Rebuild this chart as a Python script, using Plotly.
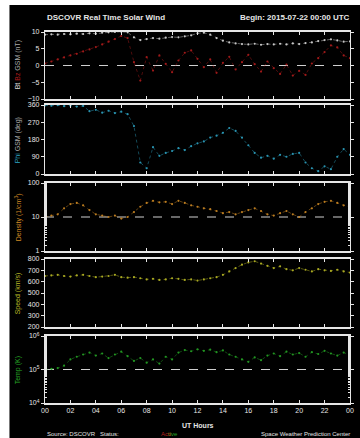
import plotly.graph_objects as go

# ---------------- data ----------------
hours = [0, 0.5, 1, 1.5, 2, 2.5, 3, 3.5, 4, 4.5, 5, 5.5, 6, 6.5, 7, 7.5, 8, 8.5,
         9, 9.5, 10, 10.5, 11, 11.5, 12, 12.5, 13, 13.5, 14, 14.5, 15, 15.5, 16,
         16.5, 17, 17.5, 18, 18.5, 19, 19.5, 20, 20.5, 21, 21.5, 22, 22.5, 23,
         23.5, 24]

bt = [9.2, 9.3, 9.2, 9.4, 9.3, 9.5, 9.4, 9.6, 9.5, 9.8, 9.9, 10.0, 10.1, 9.9,
      8.4, 7.6, 7.9, 8.2, 8.0, 8.3, 8.5, 8.4, 8.7, 9.0, 9.6, 9.8, 9.2, 8.2, 7.4,
      6.9, 6.6, 6.4, 6.3, 6.5, 6.2, 6.4, 6.3, 6.5, 6.3, 6.6, 6.4, 6.7, 6.9, 7.3,
      7.6, 7.8, 7.5, 7.1, 7.2]

bz = [0.6, 1.2, 1.8, 2.4, 3.0, 3.5, 4.2, 4.8, 5.5, 6.3, 7.1, 7.9, 8.8, 8.2,
      1.0, -4.5, 2.5, -1.5, 3.0, 0.5, -2.0, 1.5, 3.8, 4.5, 2.0, -0.5, 1.8, -2.2,
      0.8, 2.6, -1.2, 1.0, 3.2, 0.4, -1.8, 1.2, -0.8, -2.5, 0.3, -3.0, -1.6,
      -2.8, 0.6, 2.2, 4.0, 6.0, 5.4, 3.0, 2.2]

phi = [358, 356, 359, 354, 357, 352, 355, 328, 335, 320, 330, 318, 325, 312,
       250, 60, 30, 140, 95, 110, 120, 135, 125, 145, 160, 170, 190, 200, 215,
       240, 225, 190, 150, 110, 85, 95, 80, 100, 90, 105, 110, 60, 30, 15, 40,
       25, 90, 130, 100]

density = [10, 11, 12, 18, 24, 26, 22, 16, 12, 11, 10, 11, 9, 10, 14, 20, 26,
           30, 27, 28, 24, 30, 26, 22, 20, 18, 17, 15, 13, 14, 12, 14, 16, 18,
           15, 12, 11, 13, 15, 12, 10, 14, 18, 24, 28, 30, 26, 22, 20]

speed = [650, 655, 660, 650, 645, 655, 660, 650, 640, 645, 650, 660, 640, 635,
         640, 630, 620, 625, 615, 620, 630, 625, 615, 620, 610, 620, 630, 640,
         660, 690, 720, 750, 770, 780, 760, 740, 720, 735, 710, 700, 720, 705,
         690, 710, 700, 695, 705, 690, 680]

temp = [1.0e5, 1.05e5, 1.1e5, 1.3e5, 2.0e5, 2.4e5, 2.8e5, 3.2e5, 2.6e5, 3.0e5,
        2.2e5, 2.8e5, 3.4e5, 2.5e5, 1.8e5, 2.2e5, 1.6e5, 2.0e5, 1.5e5, 2.4e5,
        2.0e5, 3.2e5, 3.8e5, 3.5e5, 4.0e5, 3.6e5, 3.9e5, 3.3e5, 3.7e5, 2.8e5,
        2.4e5, 2.0e5, 1.7e5, 2.3e5, 1.9e5, 2.6e5, 3.0e5, 2.5e5, 3.4e5, 2.8e5,
        3.1e5, 2.4e5, 3.3e5, 2.9e5, 3.6e5, 3.0e5, 2.6e5, 3.2e5, 2.7e5]

x_tick_vals = [0, 2, 4, 6, 8, 10, 12, 14, 16, 18, 20, 22, 24]
x_tick_text = ["00", "02", "04", "06", "08", "10", "12", "14", "16", "18",
               "20", "22", "00"]

bz_ticks = [-10, -5, 0, 5, 10]
phi_ticks = [0, 90, 180, 270, 360]
density_ticks = [1, 10, 100]
density_tick_text = ["1", "10", "100"]
speed_ticks = [200, 300, 400, 500, 600, 700, 800]
temp_ticks = [1e4, 1e5, 1e6]
temp_tick_text = ["10<sup>4</sup>", "10<sup>5</sup>", "10<sup>6</sup>"]

ref_bz = 0
ref_density = 10
ref_temp = 1e5

# ---------------- layout helpers ----------------
W, H = 360, 438
L, R, T, B = 45, 6, 32, 35
PW, PH = W - L - R, H - T - B


def py(pix):
    return (H - B - pix) / PH


def px(pix):
    return (pix - L) / PW


panels = [(32, 99), (105, 174), (183, 251), (259, 327), (336, 403)]

FONT = "Liberation Sans"
WHITE = "#e6e6e6"
C_BT = "#dcdcdc"
C_BZ = "#b01c1c"
C_PHI = "#2ea4c4"
C_DEN = "#d08a24"
C_SPD = "#bcbc26"
C_TMP = "#26a626"

fig = go.Figure()


def add(i, y, color, width=0.5, size=2.2):
    fig.add_trace(go.Scatter(
        x=hours, y=y, mode="lines+markers",
        xaxis="x" if i == 1 else f"x{i}", yaxis="y" if i == 1 else f"y{i}",
        line=dict(color=color, width=width, dash="dot"),
        marker=dict(color=color, size=size),
        opacity=0.9,
        showlegend=False, hoverinfo="skip"))


def ref(i, val):
    fig.add_trace(go.Scatter(
        x=[hours[0], hours[-1]], y=[val, val], mode="lines",
        xaxis="x" if i == 1 else f"x{i}", yaxis="y" if i == 1 else f"y{i}",
        line=dict(color="#cfcfcf", width=1.2, dash="dash"),
        showlegend=False, hoverinfo="skip"))


ref(1, ref_bz)
ref(3, ref_density)
ref(5, ref_temp)
add(1, bz, C_BZ)
add(1, bt, C_BT)
add(2, phi, C_PHI)
add(3, density, C_DEN)
add(4, speed, C_SPD)
add(5, temp, C_TMP)

layout = dict(
    width=W, height=H,
    margin=dict(l=L, r=R, t=T, b=B, pad=0),
    paper_bgcolor="black", plot_bgcolor="black",
    font=dict(family=FONT, size=7, color=WHITE),
)

yspecs = [
    dict(range=[-10, 10], tickvals=bz_ticks),
    dict(range=[0, 360], tickvals=phi_ticks),
    dict(type="log", range=[0, 2], tickvals=density_ticks,
         ticktext=density_tick_text,
         minor=dict(ticks="inside", ticklen=2, tickcolor=WHITE)),
    dict(range=[200, 800], tickvals=speed_ticks),
    dict(type="log", range=[4, 6], tickvals=temp_ticks,
         ticktext=temp_tick_text,
         minor=dict(ticks="inside", ticklen=2, tickcolor=WHITE)),
]

for i, (top, bot) in enumerate(panels, start=1):
    xs = "xaxis" if i == 1 else f"xaxis{i}"
    ys = "yaxis" if i == 1 else f"yaxis{i}"
    layout[xs] = dict(
        domain=[0, 1], range=[0, 24], anchor="y" if i == 1 else f"y{i}",
        tickvals=x_tick_vals, ticktext=x_tick_text,
        showticklabels=(i == 5), ticks="inside", ticklen=3, tickcolor=WHITE,
        showline=True, linecolor=WHITE, linewidth=1.5, mirror="ticks",
        showgrid=False, zeroline=False, tickfont=dict(size=7, color=WHITE))
    spec = dict(
        domain=[py(bot), py(top)], anchor="x" if i == 1 else f"x{i}",
        ticks="outside", ticklen=3, tickcolor=WHITE,
        showline=True, linecolor=WHITE, linewidth=1.2, mirror="ticks",
        showgrid=False, zeroline=False, tickfont=dict(size=7, color=WHITE))
    spec.update(yspecs[i - 1])
    layout[ys] = spec

fig.update_layout(**layout)

# white border strips (left and top)
fig.add_shape(type="rect", xref="paper", yref="paper", layer="above",
              x0=px(-5), x1=px(9), y0=py(445), y1=py(-5),
              fillcolor="white", line=dict(width=0))
fig.add_shape(type="rect", xref="paper", yref="paper", layer="above",
              x0=px(-5), x1=px(365), y0=py(5), y1=py(-5),
              fillcolor="white", line=dict(width=0))

ann = []
ann.append(dict(text="<b>DSCOVR Real Time Solar Wind</b>", x=px(45), y=py(17),
                xanchor="left", yanchor="middle", font=dict(size=8, color=WHITE)))
ann.append(dict(text="<b>Begin: 2015-07-22 00:00 UTC</b>", x=px(356), y=py(17),
                xanchor="right", yanchor="middle", font=dict(size=8, color=WHITE)))

side = [
    (f"<span style='color:{C_BT}'>Bt</span> <span style='color:{C_BZ}'>Bz</span> GSM (nT)", 65),
    (f"<span style='color:{C_PHI}'>Phi</span> GSM (deg)", 140),
    (f"<span style='color:{C_DEN}'>Density (1/cm<sup>3</sup>)</span>", 217),
    (f"<span style='color:{C_SPD}'>Speed (km/s)</span>", 293),
    (f"<span style='color:{C_TMP}'>Temp (K)</span>", 370),
]
for text, ypix in side:
    ann.append(dict(text=text, x=px(18), y=py(ypix), textangle=-90,
                    xanchor="center", yanchor="middle",
                    font=dict(size=7, color="#aaaaaa")))

ann.append(dict(text="<b>UT Hours</b>", x=px(200), y=py(425),
                xanchor="center", yanchor="middle", font=dict(size=7, color=WHITE)))
ann.append(dict(text="Source: DSCOVR   Status:", x=px(45), y=py(434),
                xanchor="left", yanchor="middle", font=dict(size=6, color=WHITE)))
ann.append(dict(text=f"<span style='color:{C_BZ}'>Ac</span><span style='color:{C_DEN}'>ti</span><span style='color:{C_TMP}'>ve</span>",
                x=px(171), y=py(434), xanchor="center", yanchor="middle",
                font=dict(size=6)))
ann.append(dict(text="Space Weather Prediction Center", x=px(356), y=py(434),
                xanchor="right", yanchor="middle", font=dict(size=6, color=WHITE)))

for a in ann:
    a.update(xref="paper", yref="paper", showarrow=False)
fig.update_layout(annotations=ann)

fig.write_html("out.html")
